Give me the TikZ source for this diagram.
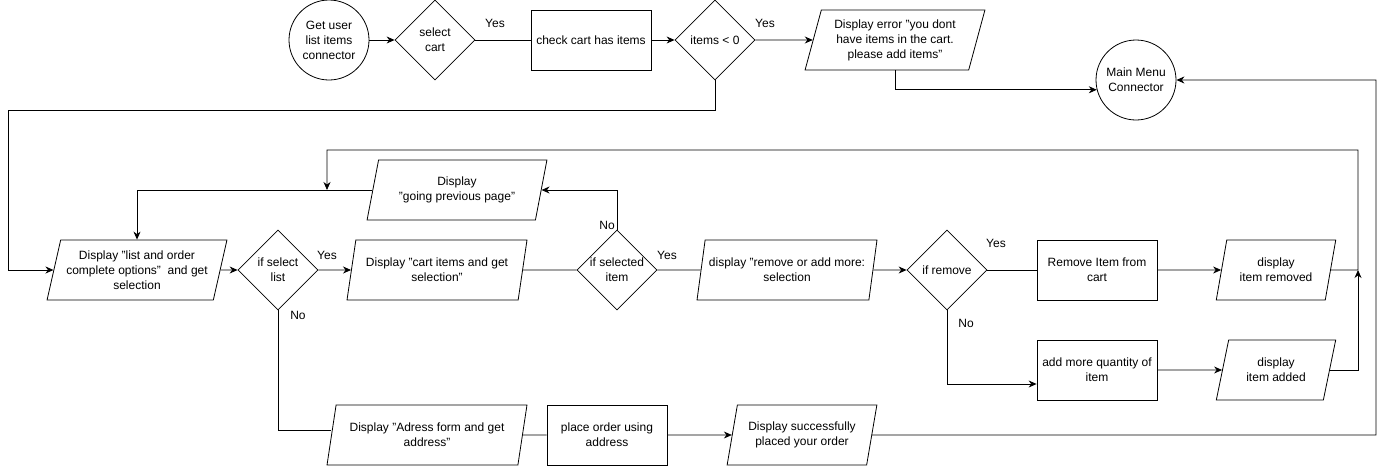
\documentclass[tikz,border=0pt]{standalone}
\usepackage{fontspec}
\setmainfont{Liberation Sans}
\usepackage{tikz}
\usetikzlibrary{shapes.geometric,arrows.meta}

\begin{document}
\begin{tikzpicture}
  [x=1pt,y=-1pt,line width=0.8pt,>={Stealth[length=8pt,width=7pt]},
   every node/.style={font=\fontsize{12}{15}\selectfont,align=center},
   proc/.style={draw,rectangle,minimum width=120pt,minimum height=60pt,inner sep=0pt},
   io/.style={draw,trapezium,trapezium left angle=72,trapezium right angle=108,
     trapezium stretches=true,minimum height=60pt,inner sep=0pt},
   dec/.style={draw,diamond,shape aspect=1,minimum width=80pt,minimum height=80pt,inner sep=-6pt},
   conn/.style={draw,circle,minimum size=80pt,inner sep=0pt},
   lbl/.style={inner sep=0pt}]
  \useasboundingbox (0,0) rectangle (1386,466);

  % top row
  \node[conn] (getuser) at (329,40) {Get user\\list items\\connector};
  \node[dec] (selcart) at (435,40) {select\\cart};
  \node[proc] (chkcart) at (591,40) {check cart has items};
  \node[dec] (itemsneg) at (715,40) {items < 0};
  \node[io,minimum width=180pt] (err) at (895,40) {Display error "you dont\\have items in the cart.\\please add items"};
  \node[conn] (mainmenu) at (1136,80) {Main Menu\\Connector};

  % middle row
  \node[io,minimum width=180pt] (goprev) at (457,190) {Display\\"going previous page"};
  \node[io,minimum width=180pt] (list) at (137,270) {Display "list and order\\complete options"~ and get\\selection};
  \node[dec] (sellist) at (278,270) {if select\\list};
  \node[io,minimum width=180pt] (cartitems) at (437,270) {Display "cart items and get\\selection"};
  \node[dec] (selitem) at (617,270) {if selected\\item};
  \node[io,minimum width=180pt] (rmadd) at (787,270) {display "remove or add more:\\selection};
  \node[dec] (ifrm) at (947,270) {if remove};
  \node[proc] (rmitem) at (1097,270) {Remove Item from\\cart};
  \node[io,minimum width=120pt] (removed) at (1276,270) {display\\item removed};
  \node[proc] (addmore) at (1097,370) {add more quantity of\\item};
  \node[io,minimum width=120pt] (added) at (1276,370) {display\\item added};

  % bottom row
  \node[io,minimum width=200pt] (adress) at (427,435) {Display "Adress form and get\\address"};
  \node[proc] (placeord) at (607,435) {place order using\\address};
  \node[io,minimum width=150pt] (success) at (802,435) {Display successfully\\placed your order};

  % yes / no
  \node[lbl] (yes1) at (495,23) {Yes};
  \node[lbl] (yes2) at (765,23) {Yes};
  \node[lbl] (yes3) at (327,255) {Yes};
  \node[lbl] (yes4) at (667,255) {Yes};
  \node[lbl] (yes5) at (996,243) {Yes};
  \node[lbl] (no1) at (298,315) {No};
  \node[lbl] (no2) at (607,225) {No};
  \node[lbl] (no3) at (966,323) {No};

  \coordinate (lft) at (8,110);
  \coordinate (rjoin) at (1358,270);
  \coordinate (loopR) at (1358,150);
  \coordinate (drop) at (327,190);
  \coordinate (rgt) at (1376,435);

  \foreach \from/\to in {getuser/selcart,chkcart/itemsneg,itemsneg/err,list/sellist,
    sellist/cartitems,rmadd/ifrm,rmitem/removed,addmore/added,placeord/success}
    \draw[->] (\from.east) -- (\to.west);
  \foreach \from/\to in {selcart/chkcart,cartitems/selitem,selitem/rmadd,
    ifrm/rmitem,adress/placeord}
    \draw (\from.east) -- (\to.west);

  \draw[->] (err.south) |- (mainmenu.194.5);
  \draw[->] (itemsneg.south) |- (lft) |- (list.west);
  \draw[->] (selitem.north) |- (goprev.east);
  \draw[->] (goprev.west) -| (list.north);
  \draw[->] (ifrm.south) |- ([yshift=-14pt]addmore.west);
  \draw[->] (removed.east) -- (rjoin) -- (loopR) -| (drop);
  \draw[->] (added.east) -| (rjoin);
  \draw (sellist.south) |- ([yshift=5pt]adress.west);
  \draw[->] (success.east) -- (rgt) |- (mainmenu.east);
\end{tikzpicture}
\end{document}
